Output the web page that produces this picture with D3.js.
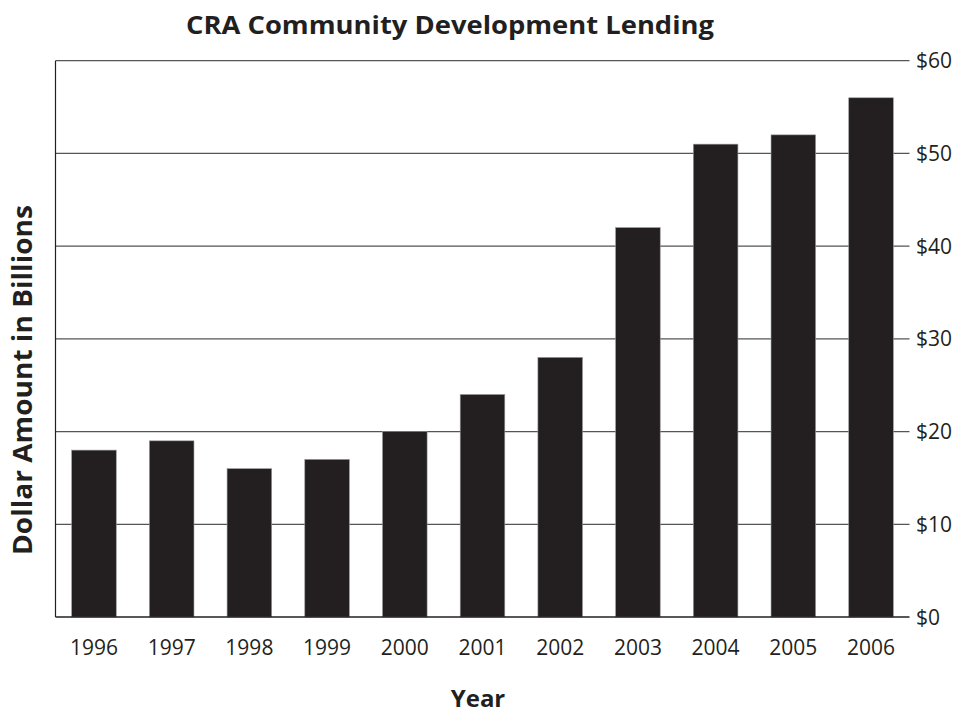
<!DOCTYPE html>
<html>
<head>
<meta charset="utf-8">
<script src="https://cdn.jsdelivr.net/npm/d3@7"></script>
<style>
  body { margin: 0; background: #fff; }
  svg { display: block; }
  text { font-family: "Open Sans", "DejaVu Sans", sans-serif; fill: #231f20; }
</style>
</head>
<body>
<svg id="chart" width="962" height="715"></svg>
<script>
const years = ["1996","1997","1998","1999","2000","2001","2002","2003","2004","2005","2006"];
const values = [18, 19, 16, 17, 20, 24, 28, 42, 51, 52, 56];
const yTicks = [0, 10, 20, 30, 40, 50, 60];
const yTickLabels = ["$0","$10","$20","$30","$40","$50","$60"];

const svg = d3.select("#chart");
const mLeft = 55.5, mRight = 909.5, mTop = 60.7, mBottom = 617;

const x = d3.scaleBand().domain(years).range([mLeft, mRight]).paddingInner(0.426).paddingOuter(0.208);
const y = d3.scaleLinear().domain([0, 60]).range([mBottom, mTop]);

// gridlines
svg.append("g").selectAll("line").data(yTicks.slice(1)).join("line")
  .attr("x1", mLeft).attr("x2", mRight)
  .attr("y1", d => y(d)).attr("y2", d => y(d))
  .attr("stroke", "#555").attr("stroke-width", 1.2);

// bars
svg.append("g").selectAll("rect").data(values).join("rect")
  .attr("x", (d, i) => x(years[i]))
  .attr("width", x.bandwidth())
  .attr("y", d => y(d))
  .attr("height", d => y(0) - y(d))
  .attr("fill", "#231f20")
  .attr("stroke", "#9a9a9a").attr("stroke-width", 0.6);

// left axis line and bottom line
svg.append("line").attr("x1", mLeft).attr("x2", mLeft).attr("y1", mTop).attr("y2", mBottom)
  .attr("stroke", "#231f20").attr("stroke-width", 1.2);
svg.append("line").attr("x1", mLeft).attr("x2", mRight).attr("y1", mBottom).attr("y2", mBottom)
  .attr("stroke", "#231f20").attr("stroke-width", 1.5);

// right tick labels
svg.append("g").selectAll("text").data(yTicks).join("text")
  .attr("x", 916).attr("y", d => y(d))
  .attr("dy", "0.36em")
  .attr("font-size", 21)
  .text((d, i) => yTickLabels[i]);

// x labels
svg.append("g").selectAll("text").data(years).join("text")
  .attr("x", d => x(d) + x.bandwidth() / 2)
  .attr("y", 655)
  .attr("text-anchor", "middle")
  .attr("font-size", 21)
  .text(d => d);

// title
svg.append("text").attr("x", 450).attr("y", 34).attr("text-anchor", "middle")
  .attr("font-size", 25).attr("font-weight", "bold")
  .attr("textLength", 528).attr("lengthAdjust", "spacingAndGlyphs")
  .text("CRA Community Development Lending");

// axis titles
svg.append("text").attr("x", 478).attr("y", 707).attr("text-anchor", "middle")
  .attr("font-size", 24).attr("font-weight", "bold").text("Year");

svg.append("text").attr("transform", "translate(32,380) rotate(-90)")
  .attr("text-anchor", "middle")
  .attr("font-size", 26).attr("font-weight", "bold")
  .attr("textLength", 350).attr("lengthAdjust", "spacingAndGlyphs")
  .text("Dollar Amount in Billions");
</script>
</body>
</html>
